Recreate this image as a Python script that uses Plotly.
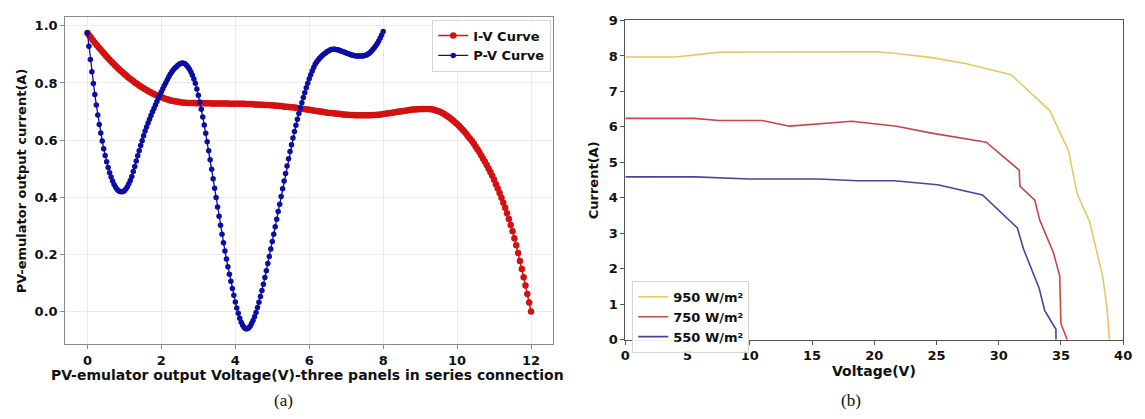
import plotly.graph_objects as go

# ---------------- panel (a): PV-emulator, three panels in series ----------------
iv_voltage = [
    0.00, 0.05, 0.10, 0.15, 0.20, 0.25, 0.30, 0.35, 0.40, 0.45, 0.50, 0.55, 0.60, 0.65, 0.70, 0.75, 0.80, 0.85, 0.90, 0.95,
    1.00, 1.05, 1.10, 1.15, 1.20, 1.25, 1.30, 1.35, 1.40, 1.45, 1.50, 1.55, 1.60, 1.65, 1.70, 1.75, 1.80, 1.85, 1.90, 1.95,
    2.00, 2.05, 2.10, 2.15, 2.20, 2.25, 2.30, 2.35, 2.40, 2.45, 2.50, 2.55, 2.60, 2.65, 2.70, 2.75, 2.80, 2.85, 2.90, 2.95,
    3.00, 3.05, 3.10, 3.15, 3.20, 3.25, 3.30, 3.35, 3.40, 3.45, 3.50, 3.55, 3.60, 3.65, 3.70, 3.75, 3.80, 3.85, 3.90, 3.95,
    4.00, 4.05, 4.10, 4.15, 4.20, 4.25, 4.30, 4.35, 4.40, 4.45, 4.50, 4.55, 4.60, 4.65, 4.70, 4.75, 4.80, 4.85, 4.90, 4.95,
    5.00, 5.05, 5.10, 5.15, 5.20, 5.25, 5.30, 5.35, 5.40, 5.45, 5.50, 5.55, 5.60, 5.65, 5.70, 5.75, 5.80, 5.85, 5.90, 5.95,
    6.00, 6.05, 6.10, 6.15, 6.20, 6.25, 6.30, 6.35, 6.40, 6.45, 6.50, 6.55, 6.60, 6.65, 6.70, 6.75, 6.80, 6.85, 6.90, 6.95,
    7.00, 7.05, 7.10, 7.15, 7.20, 7.25, 7.30, 7.35, 7.40, 7.45, 7.50, 7.55, 7.60, 7.65, 7.70, 7.75, 7.80, 7.85, 7.90, 7.95,
    8.00, 8.05, 8.10, 8.15, 8.20, 8.25, 8.30, 8.35, 8.40, 8.45, 8.50, 8.55, 8.60, 8.65, 8.70, 8.75, 8.80, 8.85, 8.90, 8.95,
    9.00, 9.05, 9.10, 9.15, 9.20, 9.25, 9.30, 9.35, 9.40, 9.45, 9.50, 9.55, 9.60, 9.65, 9.70, 9.75, 9.80, 9.85, 9.90, 9.95,
    10.00, 10.05, 10.10, 10.15, 10.20, 10.25, 10.30, 10.35, 10.40, 10.45, 10.50, 10.55, 10.60, 10.65, 10.70, 10.75, 10.80, 10.85, 10.90, 10.95,
    11.00, 11.05, 11.10, 11.15, 11.20, 11.25, 11.30, 11.35, 11.40, 11.45, 11.50, 11.55, 11.60, 11.65, 11.70, 11.75, 11.80, 11.85, 11.90, 11.95,
    12.00,
]
iv_current = [
    0.975, 0.966, 0.958, 0.949, 0.941, 0.933, 0.925, 0.918, 0.910, 0.903, 0.895, 0.888, 0.881, 0.874, 0.868, 0.861, 0.855, 0.849, 0.843, 0.837,
    0.831, 0.826, 0.820, 0.815, 0.810, 0.805, 0.800, 0.796, 0.791, 0.787, 0.783, 0.779, 0.775, 0.771, 0.768, 0.764, 0.761, 0.758, 0.755, 0.753,
    0.750, 0.748, 0.745, 0.743, 0.741, 0.739, 0.738, 0.736, 0.735, 0.734, 0.733, 0.732, 0.731, 0.731, 0.730, 0.730, 0.730, 0.730, 0.730, 0.729,
    0.729, 0.729, 0.729, 0.729, 0.729, 0.729, 0.729, 0.728, 0.728, 0.728, 0.728, 0.728, 0.728, 0.728, 0.728, 0.728, 0.728, 0.727, 0.727, 0.727,
    0.727, 0.727, 0.727, 0.727, 0.727, 0.727, 0.726, 0.726, 0.726, 0.726, 0.725, 0.725, 0.725, 0.724, 0.724, 0.724, 0.723, 0.723, 0.723, 0.722,
    0.722, 0.721, 0.720, 0.720, 0.719, 0.719, 0.718, 0.717, 0.717, 0.716, 0.715, 0.715, 0.714, 0.713, 0.712, 0.711, 0.710, 0.709, 0.708, 0.707,
    0.706, 0.705, 0.704, 0.703, 0.702, 0.701, 0.700, 0.699, 0.698, 0.697, 0.696, 0.695, 0.695, 0.694, 0.693, 0.692, 0.692, 0.691, 0.690, 0.690,
    0.689, 0.689, 0.688, 0.688, 0.688, 0.687, 0.687, 0.687, 0.687, 0.687, 0.687, 0.687, 0.687, 0.687, 0.688, 0.688, 0.688, 0.689, 0.689, 0.690,
    0.691, 0.692, 0.693, 0.694, 0.695, 0.696, 0.697, 0.698, 0.699, 0.700, 0.701, 0.702, 0.703, 0.704, 0.705, 0.706, 0.707, 0.707, 0.708, 0.708,
    0.709, 0.709, 0.709, 0.709, 0.709, 0.709, 0.708, 0.707, 0.705, 0.703, 0.701, 0.698, 0.695, 0.691, 0.687, 0.683, 0.678, 0.673, 0.668, 0.662,
    0.656, 0.650, 0.643, 0.636, 0.629, 0.621, 0.613, 0.605, 0.597, 0.588, 0.578, 0.568, 0.558, 0.547, 0.536, 0.525, 0.513, 0.501, 0.488, 0.475,
    0.461, 0.446, 0.431, 0.415, 0.398, 0.381, 0.363, 0.344, 0.324, 0.303, 0.281, 0.257, 0.232, 0.205, 0.177, 0.149, 0.120, 0.091, 0.062, 0.032,
    0.000,
]

pv_voltage = [
    0.00, 0.04, 0.08, 0.12, 0.16, 0.20, 0.24, 0.28, 0.32, 0.36, 0.40, 0.44, 0.48, 0.52, 0.56, 0.60, 0.64, 0.68, 0.72, 0.76, 0.80, 0.84, 0.88, 0.92, 0.96,
    1.00, 1.04, 1.08, 1.12, 1.16, 1.20, 1.24, 1.28, 1.32, 1.36, 1.40, 1.44, 1.48, 1.52, 1.56, 1.60, 1.64, 1.68, 1.72, 1.76, 1.80, 1.84, 1.88, 1.92, 1.96,
    2.00, 2.04, 2.08, 2.12, 2.16, 2.20, 2.24, 2.28, 2.32, 2.36, 2.40, 2.44, 2.48, 2.52, 2.56, 2.60, 2.64, 2.68, 2.72, 2.76, 2.80, 2.84, 2.88, 2.92, 2.96,
    3.00, 3.04, 3.08, 3.12, 3.16, 3.20, 3.24, 3.28, 3.32, 3.36, 3.40, 3.44, 3.48, 3.52, 3.56, 3.60, 3.64, 3.68, 3.72, 3.76, 3.80, 3.84, 3.88, 3.92, 3.96,
    4.00, 4.04, 4.08, 4.12, 4.16, 4.20, 4.24, 4.28, 4.32, 4.36, 4.40, 4.44, 4.48, 4.52, 4.56, 4.60, 4.64, 4.68, 4.72, 4.76, 4.80, 4.84, 4.88, 4.92, 4.96,
    5.00, 5.04, 5.08, 5.12, 5.16, 5.20, 5.24, 5.28, 5.32, 5.36, 5.40, 5.44, 5.48, 5.52, 5.56, 5.60, 5.64, 5.68, 5.72, 5.76, 5.80, 5.84, 5.88, 5.92, 5.96,
    6.00, 6.04, 6.08, 6.12, 6.16, 6.20, 6.24, 6.28, 6.32, 6.36, 6.40, 6.44, 6.48, 6.52, 6.56, 6.60, 6.64, 6.68, 6.72, 6.76, 6.80, 6.84, 6.88, 6.92, 6.96,
    7.00, 7.04, 7.08, 7.12, 7.16, 7.20, 7.24, 7.28, 7.32, 7.36, 7.40, 7.44, 7.48, 7.52, 7.56, 7.60, 7.64, 7.68, 7.72, 7.76, 7.80, 7.84, 7.88, 7.92, 7.96,
    8.00,
]
pv_values = [
    0.975, 0.928, 0.882, 0.839, 0.798, 0.760, 0.723, 0.688, 0.655, 0.625, 0.597, 0.570, 0.546, 0.524, 0.504, 0.486, 0.471, 0.457, 0.445, 0.436, 0.428, 0.423, 0.420, 0.419, 0.420,
    0.423, 0.429, 0.437, 0.447, 0.459, 0.473, 0.490, 0.508, 0.527, 0.545, 0.563, 0.581, 0.598, 0.615, 0.632, 0.646, 0.660, 0.673, 0.686, 0.699, 0.711, 0.723, 0.735, 0.747, 0.758,
    0.769, 0.780, 0.791, 0.801, 0.811, 0.821, 0.830, 0.838, 0.845, 0.851, 0.856, 0.861, 0.865, 0.868, 0.870, 0.869, 0.867, 0.862, 0.856, 0.848, 0.838, 0.827, 0.814, 0.799, 0.779,
    0.757, 0.733, 0.708, 0.681, 0.653, 0.624, 0.594, 0.563, 0.531, 0.498, 0.465, 0.432, 0.399, 0.366, 0.334, 0.302, 0.271, 0.241, 0.212, 0.184, 0.157, 0.131, 0.106, 0.081, 0.057,
    0.034, 0.013, -0.006, -0.023, -0.037, -0.048, -0.056, -0.060, -0.060, -0.057, -0.051, -0.042, -0.031, -0.018, -0.003, 0.014, 0.033, 0.053, 0.074, 0.096, 0.119, 0.143, 0.168, 0.193, 0.219,
    0.245, 0.271, 0.297, 0.323, 0.350, 0.376, 0.403, 0.430, 0.457, 0.483, 0.509, 0.535, 0.560, 0.584, 0.607, 0.630, 0.652, 0.673, 0.693, 0.712, 0.731, 0.749, 0.766, 0.783, 0.799,
    0.815, 0.829, 0.842, 0.854, 0.865, 0.873, 0.880, 0.886, 0.892, 0.897, 0.901, 0.905, 0.909, 0.912, 0.915, 0.917, 0.918, 0.918, 0.917, 0.916, 0.915, 0.913, 0.911, 0.909, 0.907,
    0.905, 0.903, 0.901, 0.899, 0.898, 0.896, 0.895, 0.894, 0.894, 0.894, 0.894, 0.894, 0.895, 0.897, 0.899, 0.902, 0.906, 0.911, 0.917, 0.923, 0.930, 0.938, 0.947, 0.957, 0.968,
    0.980,
]

a_xticks = [0, 2, 4, 6, 8, 10, 12]
a_yticks = [0.0, 0.2, 0.4, 0.6, 0.8, 1.0]

# ---------------- panel (b): I-V curves at three irradiances ----------------
v950 = [0, 4.0, 5.6, 7.4, 10.0, 15.0, 20.2, 21.8, 24.5, 27.4, 29.8, 31.0, 34.1, 35.6, 36.3, 37.3, 38.35, 38.7, 38.9]
i950 = [7.97, 7.97, 8.03, 8.10, 8.11, 8.11, 8.12, 8.07, 7.96, 7.78, 7.56, 7.47, 6.46, 5.34, 4.12, 3.33, 1.80, 0.90, 0.0]

v750 = [0, 5.5, 7.5, 11.0, 13.2, 18.2, 21.8, 24.5, 29.0, 31.5, 31.65, 31.7, 32.9, 33.3, 34.4, 34.9, 35.0, 35.5]
i750 = [6.24, 6.24, 6.18, 6.18, 6.02, 6.16, 6.02, 5.83, 5.57, 4.82, 4.78, 4.33, 3.93, 3.37, 2.45, 1.80, 0.45, 0.0]

v550 = [0, 5.6, 10.0, 15.5, 18.7, 21.6, 25.1, 28.7, 31.5, 32.0, 33.25, 33.7, 34.5, 34.6, 34.6]
i550 = [4.59, 4.59, 4.53, 4.53, 4.48, 4.48, 4.37, 4.08, 3.15, 2.55, 1.45, 0.82, 0.35, 0.30, 0.0]

b_xticks = [0, 5, 10, 15, 20, 25, 30, 35, 40]
b_yticks = [0, 1, 2, 3, 4, 5, 6, 7, 8, 9]

# ---------------- layout helpers (pixel -> paper) ----------------
W, H = 1145, 419


def fx(px):
    return px / W


def fy(py):
    return 1 - py / H


FONT = "DejaVu Sans"
tick_font = dict(family=FONT, size=13, color="#111111", weight="bold")
title_h_font = dict(family=FONT, size=14, color="#111111", weight="bold")
title_v_font = dict(family=FONT, size=13, color="#111111", weight="bold")
legend_font = dict(family=FONT, size=13, color="#111111", weight="bold")
caption_font = dict(family="Liberation Serif", size=17, color="#111111")

fig = go.Figure()

fig.add_trace(go.Scatter(
    x=iv_voltage, y=iv_current, name="I-V Curve", mode="lines+markers",
    line=dict(color="#d41111", width=1.5),
    marker=dict(color="#d41111", size=6.5, line=dict(width=0)),
    xaxis="x", yaxis="y", legend="legend",
))
fig.add_trace(go.Scatter(
    x=pv_voltage, y=pv_values, name="P-V Curve", mode="lines+markers",
    line=dict(color="#0c0ca6", width=1.3),
    marker=dict(color="#0c0ca6", size=5.5, line=dict(width=0)),
    xaxis="x", yaxis="y", legend="legend",
))

fig.add_trace(go.Scatter(
    x=v950, y=i950, name="950 W/m²", mode="lines",
    line=dict(color="#e6c862", width=1.6), xaxis="x2", yaxis="y2", legend="legend2",
))
fig.add_trace(go.Scatter(
    x=v750, y=i750, name="750 W/m²", mode="lines",
    line=dict(color="#c84646", width=1.6), xaxis="x2", yaxis="y2", legend="legend2",
))
fig.add_trace(go.Scatter(
    x=v550, y=i550, name="550 W/m²", mode="lines",
    line=dict(color="#46469e", width=1.6), xaxis="x2", yaxis="y2", legend="legend2",
))

axis_common = dict(
    showline=True, mirror=True, ticks="outside", ticklen=4, tickwidth=1,
    zeroline=False, tickfont=tick_font, linewidth=1,
)

fig.update_layout(
    width=W, height=H,
    margin=dict(l=0, r=0, t=0, b=0),
    paper_bgcolor="white", plot_bgcolor="white",
    font=dict(family=FONT, color="#111111"),
    xaxis=dict(domain=[fx(61), fx(555)], anchor="y", range=[-0.6, 12.6],
               tickvals=a_xticks, showgrid=True, gridcolor="#ececec",
               linecolor="#8a8a8a", tickcolor="#8a8a8a", **axis_common),
    yaxis=dict(domain=[fy(350), fy(10)], anchor="x", range=[-0.115, 1.032],
               tickvals=a_yticks, tickformat=".1f", showgrid=True, gridcolor="#ececec",
               linecolor="#8a8a8a", tickcolor="#8a8a8a", **axis_common),
    xaxis2=dict(domain=[fx(628), fx(1132)], anchor="y2", range=[0, 40],
                tickvals=b_xticks, showgrid=False,
                linecolor="#555555", tickcolor="#555555", **axis_common),
    yaxis2=dict(domain=[fy(345), fy(14)], anchor="x2", range=[0, 9],
                tickvals=b_yticks, showgrid=False,
                linecolor="#555555", tickcolor="#555555", **axis_common),
    legend=dict(x=fx(553), xanchor="right", y=fy(13), yanchor="top",
                bgcolor="rgba(255,255,255,0.9)", bordercolor="#d5d5d5", borderwidth=1,
                font=legend_font, tracegroupgap=0, itemwidth=30),
    legend2=dict(x=fx(635), xanchor="left", y=fy(284), yanchor="top",
                 bgcolor="rgba(255,255,255,0.9)", bordercolor="#d5d5d5", borderwidth=1,
                 font=legend_font, tracegroupgap=0, itemwidth=30),
    showlegend=True,
)

annotations = [
    dict(text="PV-emulator output Voltage(V)-three panels in series connection",
         x=fx(306), y=fy(382), xref="paper", yref="paper", showarrow=False,
         xanchor="center", yanchor="middle", font=title_h_font),
    dict(text="PV-emulator output current(A)", x=fx(17), y=fy(180), xref="paper", yref="paper",
         showarrow=False, textangle=-90, xanchor="center", yanchor="middle", font=title_v_font),
    dict(text="Voltage(V)", x=fx(880), y=fy(378), xref="paper", yref="paper", showarrow=False,
         xanchor="center", yanchor="middle", font=title_h_font),
    dict(text="Current(A)", x=fx(596), y=fy(180), xref="paper", yref="paper", showarrow=False,
         textangle=-90, xanchor="center", yanchor="middle", font=title_v_font),
    dict(text="(a)", x=fx(282), y=fy(408), xref="paper", yref="paper", showarrow=False,
         xanchor="center", yanchor="middle", font=caption_font),
    dict(text="(b)", x=fx(856), y=fy(408), xref="paper", yref="paper", showarrow=False,
         xanchor="center", yanchor="middle", font=caption_font),
]
fig.update_layout(annotations=annotations)

fig.write_html(
    "out.html",
    config={"displayModeBar": False},
    post_script="document.body.style.margin='0';document.body.style.overflow='hidden';",
)
